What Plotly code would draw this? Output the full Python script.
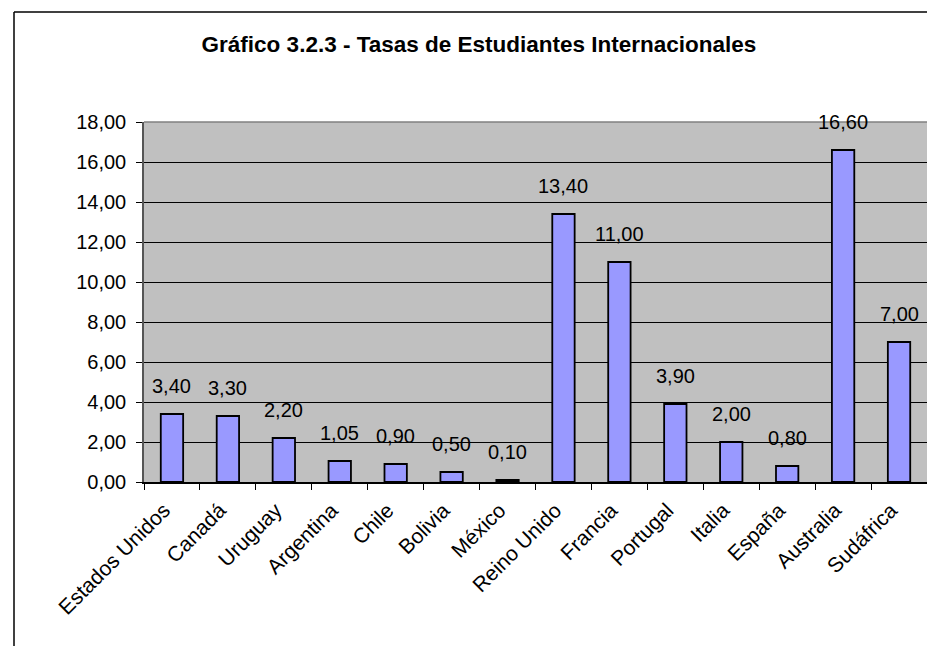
import plotly.graph_objects as go

categories = ["Estados Unidos", "Canadá", "Uruguay", "Argentina", "Chile", "Bolivia",
              "México", "Reino Unido", "Francia", "Portugal", "Italia", "España",
              "Australia", "Sudáfrica"]
values = [3.40, 3.30, 2.20, 1.05, 0.90, 0.50, 0.10, 13.40, 11.00, 3.90, 2.00, 0.80, 16.60, 7.00]
title_text = "Gráfico 3.2.3 - Tasas de Estudiantes Internacionales"
y_range = [0, 18]
y_step = 2

W, H = 927, 646
L, R, T, B = 144, 0, 122, 164
FONT = "Arial, Liberation Sans, sans-serif"

def fmt(v):
    return f"{v:.2f}".replace(".", ",")

fig = go.Figure()
fig.add_trace(go.Bar(
    x=categories, y=values,
    marker=dict(color="#9999FF", line=dict(color="#000000", width=1.8)),
    hoverinfo="x+y",
))

annotations = []
for c, v in zip(categories, values):
    annotations.append(dict(
        x=c, y=v, xref="x", yref="y", text=fmt(v), showarrow=False,
        yanchor="middle", yshift=28,
        font=dict(family=FONT, size=20, color="#000000"),
    ))

pw = W - L - R
ph = H - T - B
def px_x(p):
    return (p - L) / pw
def px_y(p):
    return (H - B - p) / ph

shapes = [
    # plot area top border (gray)
    dict(type="line", xref="paper", yref="paper", x0=0, x1=1, y0=1, y1=1,
         line=dict(color="#808080", width=1.5)),
    # chart outer border (left and top visible)
    dict(type="line", xref="paper", yref="paper", x0=px_x(14), x1=px_x(14),
         y0=px_y(12), y1=px_y(H + 10), line=dict(color="#000000", width=1.5)),
    dict(type="line", xref="paper", yref="paper", x0=px_x(14), x1=px_x(W + 10),
         y0=px_y(12), y1=px_y(12), line=dict(color="#000000", width=1.5)),
]

fig.update_layout(
    width=W, height=H,
    margin=dict(l=L, r=R, t=T, b=B, pad=0),
    paper_bgcolor="#FFFFFF",
    plot_bgcolor="#C0C0C0",
    separators=",.",
    showlegend=False,
    bargap=0.6,
    title=dict(text="<b>" + title_text + "</b>", x=479 / W, xanchor="center",
               y=1 - 44 / H, yanchor="middle", xref="container", yref="container",
               font=dict(family=FONT, size=22.5, color="#000000")),
    font=dict(family=FONT, size=20, color="#000000"),
    annotations=annotations,
    shapes=shapes,
)
fig.update_xaxes(
    type="category", tickangle=-45, ticks="outside", tickson="boundaries",
    ticklen=6, tickcolor="#000000", tickwidth=1,
    ticklabelshift=-8, ticklabelstandoff=6,
    showline=True, linecolor="#000000", linewidth=1.5,
    showgrid=False, tickfont=dict(family=FONT, size=21, color="#000000"),
)
fig.update_yaxes(
    range=y_range, dtick=y_step, tick0=0, tickformat=".2f",
    ticks="outside", ticklen=6, tickcolor="#000000", tickwidth=1,
    ticklabelstandoff=6,
    showline=True, linecolor="#555555", linewidth=1.5,
    showgrid=True, gridcolor="#000000", gridwidth=1, zeroline=False,
    tickfont=dict(family=FONT, size=20, color="#000000"),
)

fig.write_html(
    "out.html",
    config={"displayModeBar": False},
    post_script="document.body.style.margin='0';document.body.style.overflow='hidden';",
)
